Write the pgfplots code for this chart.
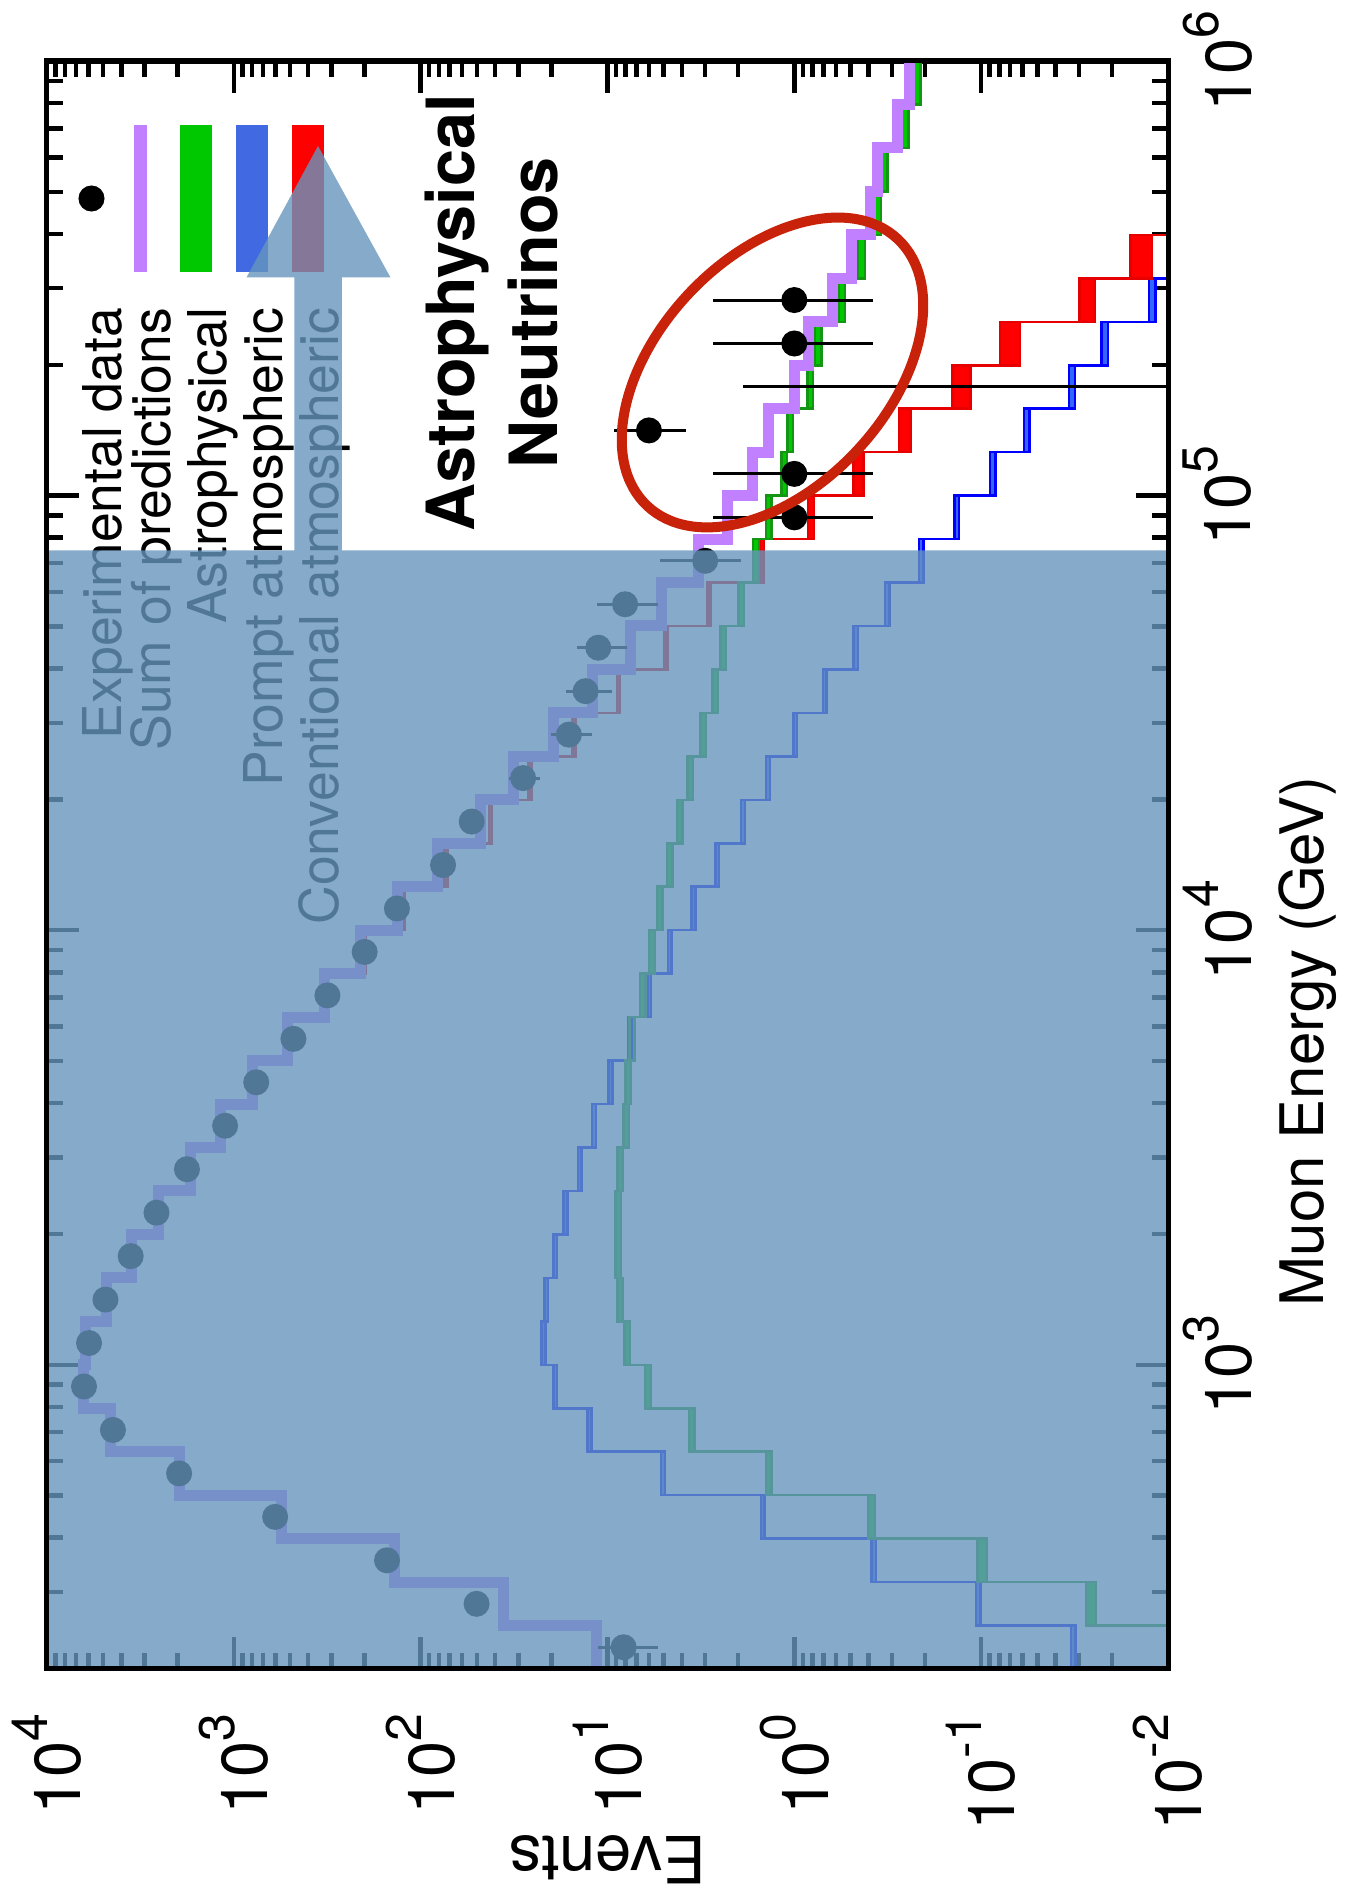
\documentclass[border=0pt]{standalone}
\usepackage{graphicx}
\usepackage{fontspec}
\setmainfont{TeX Gyre Heros}
\usepackage{pgfplots}
\usepackage{pgfplotstable}
\pgfplotsset{compat=1.18}
\usepgfplotslibrary{fillbetween}

\definecolor{sumc}{RGB}{192,128,255}
\definecolor{astf}{RGB}{0,200,0}
\definecolor{astl}{RGB}{20,150,20}
\definecolor{prf}{RGB}{51,102,255}
\definecolor{prl}{RGB}{0,0,255}
\definecolor{cvf}{RGB}{255,0,0}
\definecolor{cvl}{RGB}{230,0,0}
\definecolor{legblue}{RGB}{65,105,225}
\definecolor{ovl}{RGB}{102,149,189}
\definecolor{ellc}{RGB}{200,35,10}

\newcommand{\pw}[1]{10\raisebox{6.6pt}{\fontsize{10}{10}\selectfont #1}}

% histogram bins (left edges, log10 E) ; values are log10(events)
\pgfplotstableread{
lE  s      a      da    p      dp    c      dc
2.3 1.06  -2.3   0.025 -1.493 0.012 1.058  0.008
2.4 1.558 -1.588 0.027 -0.985 0.012 1.556  0.008
2.5 2.142 -1.006 0.025 -0.424 0.012 2.141  0.008
2.6 2.744 -0.413 0.02  0.169  0.01  2.742  0.008
2.7 3.289 0.137  0.015 0.703  0.01  3.288  0.008
2.8 3.662 0.55   0.015 1.097  0.01  3.660  0.008
2.9 3.806 0.783  0.015 1.280  0.01  3.804  0.008
3.0 3.796 0.895  0.015 1.342  0.01  3.794  0.008
3.1 3.682 0.931  0.015 1.328  0.01  3.679  0.008
3.2 3.548 0.942  0.015 1.280  0.01  3.545  0.008
3.3 3.404 0.942  0.015 1.225  0.01  3.400  0.008
3.4 3.232 0.931  0.015 1.148  0.01  3.226  0.008
3.5 3.069 0.899  0.015 1.072  0.01  3.062  0.008
3.6 2.90  0.889  0.015 0.984  0.01  2.890  0.008
3.7 2.715 0.868  0.015 0.878  0.01  2.702  0.008
3.8 2.515 0.811  0.015 0.777  0.01  2.498  0.008
3.9 2.323 0.762  0.015 0.667  0.01  2.301  0.008
4.0 2.122 0.720  0.015 0.540  0.01  2.094  0.008
4.1 1.912 0.667  0.015 0.413  0.01  1.864  0.008
4.2 1.682 0.614  0.015 0.275  0.01  1.625  0.008
4.3 1.501 0.557  0.015 0.141  0.01  1.415  0.008
4.4 1.29  0.487  0.015 -0.005 0.01  1.18   0.008
4.5 1.08  0.423  0.015 -0.163 0.01  0.942  0.008
4.6 0.878 0.381  0.015 -0.329 0.012 0.688  0.008
4.7 0.709 0.285  0.015 -0.498 0.012 0.455  0.01
4.8 0.513 0.205  0.015 -0.678 0.012 0.175  0.012
4.9 0.36  0.137  0.015 -0.868 0.012 -0.089 0.016
5.0 0.222 0.053  0.015 -1.063 0.015 -0.344 0.026
5.1 0.138 0.021  0.015 -1.243 0.015 -0.593 0.032
5.2 0.0   -0.085 0.015 -1.485 0.016 -0.894 0.048
5.3 -0.075 -0.127 0.018 -1.662 0.018 -1.154 0.053
5.4 -0.202 -0.254 0.018 -1.916 0.018 -1.567 0.042
5.5 -0.307 -0.36  0.018 -2.15  0.02  -1.857 0.058
5.6 -0.407 -0.445 0.018 -2.35  0.02  -2.2   0.06
5.7 -0.445 -0.481 0.018 -2.6   0.02  -2.5   0.06
5.8 -0.551 -0.593 0.018 -2.85  0.02  -2.8   0.06
5.9 -0.614 -0.657 0.018 -3.1   0.02  -3.1   0.06
6.0 -0.614 -0.657 0.018 -3.1   0.02  -3.1   0.06
}\hist

% experimental data (bin centres, log10 E), events, errors
\pgfplotstableread{
lE   N     ep    em
2.35 8.2   3.0   2.8
2.45 50.2  7.1   7.1
2.55 151.4 12.3  12.3
2.65 601   24.5  24.5
2.75 1963  44    44
2.85 4436  67    67
2.95 6339  80    80
3.05 5957  77    77
3.15 4864  70    70
3.25 3565  60    60
3.35 2594  51    51
3.45 1782  42    42
3.55 1114  33    33
3.65 758.6 27.5  27.5
3.75 479.7 21.9  21.9
3.85 315.5 17.8  17.8
3.95 199.5 14.1  14.1
4.05 134   11.6  11.6
4.15 75.9  8.7   8.7
4.25 53.3  7.3   7.3
4.35 28.3  5.3   5.3
4.45 16.1  4.0   4.0
4.55 13.1  3.6   3.6
4.65 11.2  3.35  3.35
4.75 8.05  3.3   2.68
4.85 3.0   2.24  1.07
4.95 1     1.74  0.62
5.05 1     1.74  0.62
5.15 6     3.2   2.2
5.35 1     1.74  0.62
5.45 1     1.74  0.62
}\datapts

\begin{document}
\rotatebox{90}{%
\begin{tikzpicture}
\begin{axis}[
  at={(46pt,35.2pt)}, anchor=south west,
  width=321.6pt, height=224.2pt, scale only axis,
  xmode=log, ymode=log,
  xmin=199.526, xmax=1e6,
  ymin=1e-2, ymax=1e4,
  axis line style={line width=1pt},
  tick align=inside,
  major tick length=6.5pt, minor tick length=3.2pt,
  every tick/.style={black, line width=0.9pt},
  xtick={1e3,1e4,1e5,1e6},
  xticklabels={\pw{3},\pw{4},\pw{5},\pw{6}},
  minor xtick={200,300,400,500,600,700,800,900,2000,3000,4000,5000,6000,7000,8000,9000,20000,30000,40000,50000,60000,70000,80000,90000,200000,300000,400000,500000,600000,700000,800000,900000},
  ytick={1e-2,1e-1,1,1e1,1e2,1e3,1e4},
  yticklabels={\pw{-2},\pw{-1},\pw{0},\pw{1},\pw{2},\pw{3},\pw{4}},
  minor ytick={0.02,0.03,0.04,0.05,0.06,0.07,0.08,0.09,0.2,0.3,0.4,0.5,0.6,0.7,0.8,0.9,2,3,4,5,6,7,8,9,20,30,40,50,60,70,80,90,200,300,400,500,600,700,800,900,2000,3000,4000,5000,6000,7000,8000,9000},
  tick label style={font=\fontsize{13}{13}\selectfont},
  xticklabel style={anchor=north, inner sep=0pt, yshift=-2.8pt},
  yticklabel style={anchor=east, inner sep=0pt, xshift=-8.8pt},
  xlabel={Muon Energy (GeV)},
  xlabel style={at={([yshift=-31pt]axis description cs:0.3905,0)}, anchor=base, inner sep=0pt, font=\fontsize{12}{12}\selectfont},
  ylabel={Events},
  ylabel style={at={([xshift=-33.6pt]axis description cs:0,0.5)}, anchor=base, inner sep=0pt, font=\fontsize{13}{13}\selectfont},
  legend style={at={(axis description cs:0.9602,0.9719)}, anchor=north east, draw=none, fill=none,
    inner sep=0pt, outer sep=0pt, row sep=-1pt, column sep=7.2pt,
    font=\fontsize{10.7}{10.7}\selectfont,
    nodes={inner sep=0pt, outer sep=0pt, text height=7.7pt, text depth=3pt}},
  legend cell align=right,
  legend plot pos=right,
]
% legend
\addlegendimage{legend image code/.code={\path (0pt,0pt) (29pt,0pt); \fill[black] (14.5pt,3.7pt) circle (2.4pt);}}
\addlegendentry{Experimental data}
\addlegendimage{legend image code/.code={\fill[sumc] (0pt,2.6pt) rectangle (29pt,4.8pt);}}
\addlegendentry{Sum of predictions}
\addlegendimage{legend image code/.code={\fill[astf] (0pt,0.75pt) rectangle (29pt,6.65pt);}}
\addlegendentry{Astrophysical}
\addlegendimage{legend image code/.code={\fill[legblue] (0pt,0.75pt) rectangle (29pt,6.65pt);}}
\addlegendentry{Prompt atmospheric}
\addlegendimage{legend image code/.code={\fill[cvf] (0pt,0.75pt) rectangle (29pt,6.65pt);}}
\addlegendentry{Conventional atmospheric}

% prompt atmospheric band
\addplot[const plot, draw=none, name path=plo, forget plot] table[x expr=10^\thisrow{lE}, y expr=10^(\thisrow{p}-\thisrow{dp})] {\hist};
\addplot[const plot, draw=none, name path=phi, forget plot] table[x expr=10^\thisrow{lE}, y expr=10^(\thisrow{p}+\thisrow{dp})] {\hist};
\addplot[prf, forget plot] fill between[of=plo and phi];
\addplot[const plot, prl, line width=0.5pt, forget plot] table[x expr=10^\thisrow{lE}, y expr=10^(\thisrow{p}-\thisrow{dp})] {\hist};
\addplot[const plot, prl, line width=0.5pt, forget plot] table[x expr=10^\thisrow{lE}, y expr=10^(\thisrow{p}+\thisrow{dp})] {\hist};

% conventional atmospheric band
\addplot[const plot, draw=none, name path=clo, forget plot] table[x expr=10^\thisrow{lE}, y expr=10^(\thisrow{c}-\thisrow{dc})] {\hist};
\addplot[const plot, draw=none, name path=chi, forget plot] table[x expr=10^\thisrow{lE}, y expr=10^(\thisrow{c}+\thisrow{dc})] {\hist};
\addplot[cvf, forget plot] fill between[of=clo and chi];
\addplot[const plot, cvl, line width=0.5pt, forget plot] table[x expr=10^\thisrow{lE}, y expr=10^(\thisrow{c}-\thisrow{dc})] {\hist};
\addplot[const plot, cvl, line width=0.5pt, forget plot] table[x expr=10^\thisrow{lE}, y expr=10^(\thisrow{c}+\thisrow{dc})] {\hist};

% astrophysical band
\addplot[const plot, draw=none, name path=alo, forget plot] table[x expr=10^\thisrow{lE}, y expr=10^(\thisrow{a}-\thisrow{da})] {\hist};
\addplot[const plot, draw=none, name path=ahi, forget plot] table[x expr=10^\thisrow{lE}, y expr=10^(\thisrow{a}+\thisrow{da})] {\hist};
\addplot[astf, forget plot] fill between[of=alo and ahi];
\addplot[const plot, astl, line width=0.5pt, forget plot] table[x expr=10^\thisrow{lE}, y expr=10^(\thisrow{a}-\thisrow{da})] {\hist};
\addplot[const plot, astl, line width=0.5pt, forget plot] table[x expr=10^\thisrow{lE}, y expr=10^(\thisrow{a}+\thisrow{da})] {\hist};

% sum of predictions
\addplot[const plot, sumc, line width=2.2pt, forget plot] table[x expr=10^\thisrow{lE}, y expr=10^\thisrow{s}] {\hist};

% bin with zero observed events: upper error only
\addplot[black, line width=0.6pt, forget plot] coordinates {(177827.9,0.001) (177827.9,1.88)};

% experimental data
\addplot[only marks, mark=*, mark size=2.4pt, black, forget plot,
  error bars/.cd, y dir=both, y explicit, error mark=none,
  error bar style={line width=0.6pt, black}]
  table[x expr=10^\thisrow{lE}, y=N, y error plus=ep, y error minus=em] {\datapts};
\end{axis}

% annotations
\fill[ovl, fill opacity=0.8] (46pt,35.2pt) -- (269.7pt,35.2pt) -- (269.7pt,200.4pt) -- (324.3pt,200.4pt) -- (324.3pt,190.7pt) -- (350.6pt,205.2pt) -- (324.3pt,219.5pt) -- (324.3pt,209.9pt) -- (269.7pt,209.9pt) -- (269.7pt,259.4pt) -- (46pt,259.4pt) -- cycle;
\draw[line width=1pt] (46pt,35.2pt) rectangle (367.6pt,259.4pt);
\draw[ellc, line width=2pt, rotate around={-43.2:(305.3pt,114.3pt)}] (305.3pt,114.3pt) ellipse [x radius=36.6pt, y radius=23pt];
\node[anchor=base, inner sep=0pt, font=\bfseries\fontsize{13.3}{13.3}\selectfont] at (317.2pt,173.8pt) {Astrophysical};
\node[anchor=base, inner sep=0pt, font=\bfseries\fontsize{13.3}{13.3}\selectfont] at (317.2pt,157.2pt) {Neutrinos};

\pgfresetboundingbox
\path[use as bounding box] (0pt,0pt) rectangle (379.8pt,268.8pt);
\end{tikzpicture}}
\end{document}
